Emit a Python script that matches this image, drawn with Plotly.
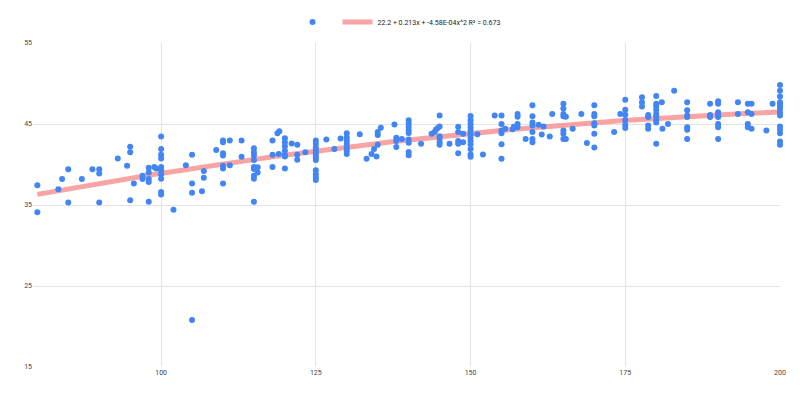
import numpy as np
import plotly.graph_objects as go

x_vals = [
    80, 80, 83.4, 84, 85, 85, 87.2, 88.9, 90, 90, 90, 93, 94.5, 95, 95, 95, 95.6, 97, 97,
    98, 98, 98, 98, 98, 98.9, 99.2,
    100, 100, 100, 100, 100, 100, 100, 100, 100, 100,
    102, 104, 105, 105, 105, 105, 106.6, 106.9, 106.9, 108.9,
    110, 110, 110, 110, 110, 110, 110, 111.1, 111.1, 113, 113,
    115, 115, 115, 115, 115, 115, 115, 115, 115, 115.6, 115.6,
    118, 118, 118, 118.8, 119.1, 119,
    120, 120, 120, 120, 120, 120, 120, 121.1, 122, 122, 122, 123.3,
    125, 125, 125, 125, 125, 125, 125, 125, 125, 125, 125, 125,
    126.7, 128, 129, 130, 130, 130, 130, 130, 130, 130, 132.1, 133.2, 134, 134.4, 134.8,
    135, 135, 135, 135.5, 137.7, 138, 138, 138, 138.9,
    140, 140, 140, 140, 140, 140, 140, 140, 140,
    142, 143.7, 144.2, 144.4, 144.7, 145, 145, 145, 145, 145, 145, 146.6,
    148, 148, 148, 148, 148, 148.8, 148.8,
    150, 150, 150, 150, 150, 150, 150, 150, 150, 150, 150, 150,
    151.1, 152, 153.9, 155, 155, 155, 155, 155, 155, 155.6, 156.8, 157,
    157.6, 157.6, 157.6, 157.6, 158.9,
    160, 160, 160, 160, 160, 160, 160, 161, 161.8, 161.5, 162.8, 163.2,
    165, 165, 165, 165, 165, 165, 165, 165.4, 165.4, 166.5, 167.9, 168.8,
    170, 170, 170, 170, 170, 170, 170, 173.2, 174.2,
    175, 175, 175, 175, 175, 175, 177.7, 177.7, 177.7, 178.7, 178.7, 178.7, 178.7,
    180, 180, 180, 180, 180, 180, 180, 180, 180, 180.9, 181, 181.9, 182.9,
    185, 185, 185, 185, 185, 185, 185, 188.7, 188.7, 188.7,
    190, 190, 190, 190, 190, 190, 190, 190, 193.2, 193.2,
    194.8, 194.8, 194.8, 194.8, 195.4, 195.4, 195.4, 197.8, 198.8,
    200, 200, 200, 200, 200, 200, 200, 200, 200, 200, 200, 200, 200, 200,
]
y_vals = [
    37.45, 34.1, 36.95, 38.2, 39.4, 35.3, 38.2, 39.4, 39.4, 38.9, 35.3, 40.75, 39.85, 42.2, 41.5, 35.6, 37.65, 38.6, 38.2,
    39.6, 39.0, 38.2, 37.85, 35.4, 39.7, 39.5,
    43.45, 41.9, 41.2, 40.75, 39.7, 39.3, 38.8, 38.25, 36.6, 36.3,
    34.4, 39.9, 41.2, 37.65, 36.5, 20.8, 36.7, 39.2, 38.35, 41.8,
    42.95, 42.75, 41.4, 41.1, 39.85, 39.5, 37.65, 42.95, 39.9, 42.95, 40.95,
    42.0, 41.5, 41.1, 40.55, 39.7, 39.45, 38.6, 38.25, 35.4, 39.65, 39.0,
    42.95, 41.2, 39.7, 43.85, 44.1, 41.3,
    43.25, 42.75, 42.25, 41.7, 41.2, 41.0, 39.5, 42.6, 42.45, 41.2, 40.6, 41.5,
    42.95, 42.55, 42.1, 41.8, 41.5, 41.2, 40.9, 40.55, 39.3, 38.8, 38.4, 38.1,
    43.1, 41.9, 43.2, 43.85, 43.35, 42.95, 42.55, 42.1, 41.7, 41.3, 43.75, 40.7, 41.3, 41.9, 41.0,
    44.0, 43.65, 42.45, 44.55, 44.95, 43.3, 42.9, 42.15, 43.15,
    45.45, 45.05, 44.65, 44.25, 43.9, 43.1, 42.7, 41.55, 41.15,
    42.55, 43.8, 44.0, 44.3, 44.5, 46.05, 44.7, 43.5, 43.15, 42.75, 42.45, 42.55,
    44.65, 44.0, 42.9, 42.55, 41.4, 43.8, 42.75,
    46.0, 45.45, 45.0, 44.6, 44.2, 43.7, 43.3, 42.9, 42.5, 41.9, 41.25, 40.95,
    43.75, 41.25, 46.05, 46.05, 45.0, 44.2, 43.85, 42.5, 40.7, 44.4, 44.35, 44.65,
    46.25, 45.9, 45.0, 44.6, 43.15,
    47.3, 45.95, 45.2, 44.8, 44.0, 43.15, 42.75, 44.9, 44.7, 43.7, 43.45, 46.25,
    47.5, 46.9, 46.25, 45.95, 44.2, 43.8, 43.15, 45.9, 43.15, 44.4, 46.25, 42.65,
    47.3, 46.25, 45.95, 45.1, 44.8, 43.8, 42.1, 44.0, 46.25,
    48.0, 46.75, 46.15, 45.5, 44.9, 44.5, 47.7, 48.3, 47.15, 46.1, 45.85, 44.8, 44.4,
    48.45, 47.5, 47.2, 46.75, 46.25, 45.95, 45.5, 45.2, 42.55, 47.7, 44.4, 45.0, 49.1,
    47.7, 46.7, 46.05, 45.85, 44.6, 44.3, 43.15, 47.5, 46.1, 45.85,
    47.8, 47.5, 46.45, 46.15, 45.85, 45.0, 44.6, 43.15, 47.7, 46.25,
    47.5, 46.45, 45.0, 44.6, 47.5, 46.25, 44.4, 44.2, 47.5,
    49.8, 49.1, 48.4, 47.7, 47.5, 47.2, 46.9, 46.45, 46.05, 44.7, 44.3, 43.85, 42.85, 42.45,
]

trend_coef = [22.2, 0.213, -4.58e-4]
trend_label = "22.2 + 0.213x + -4.58E-04x^2 R² = 0.673"
x_ticks = [100, 125, 150, 175, 200]
y_ticks = [15, 25, 35, 45, 55]

xt = np.linspace(min(x_vals), max(x_vals), 200)
yt = trend_coef[0] + trend_coef[1] * xt + trend_coef[2] * xt ** 2

fig = go.Figure()
fig.add_trace(go.Scatter(
    x=xt, y=yt, mode="lines", name=trend_label,
    line=dict(color="rgba(248,140,140,0.8)", width=5),
    hoverinfo="skip", legendrank=2,
))
fig.add_trace(go.Scatter(
    x=x_vals, y=y_vals, mode="markers", name="",
    marker=dict(color="#4285F4", size=6, line=dict(width=0)),
    cliponaxis=False, legendrank=1,
))

fig.update_layout(
    width=792, height=387,
    margin=dict(l=25, r=20, t=35, b=28, autoexpand=False),
    paper_bgcolor="white", plot_bgcolor="white",
    font=dict(family="Roboto, Arial, sans-serif", size=7, color="#444444"),
    showlegend=True,
    legend=dict(orientation="h", x=0.49, xanchor="center",
                yref="container", y=0.964, yanchor="middle",
                font=dict(size=7, color="#222222"), itemwidth=30, tracegroupgap=0,
                traceorder="normal"),
    xaxis=dict(range=[79.3, 200], tickvals=x_ticks, showgrid=True, gridcolor="#e3e3e3",
               zeroline=False, showline=False, ticks="", automargin=False),
    yaxis=dict(range=[15, 55], tickvals=y_ticks, showgrid=True, gridcolor="#e3e3e3",
               zeroline=False, showline=False, ticks="", automargin=False),
)
fig.write_html("out.html")
